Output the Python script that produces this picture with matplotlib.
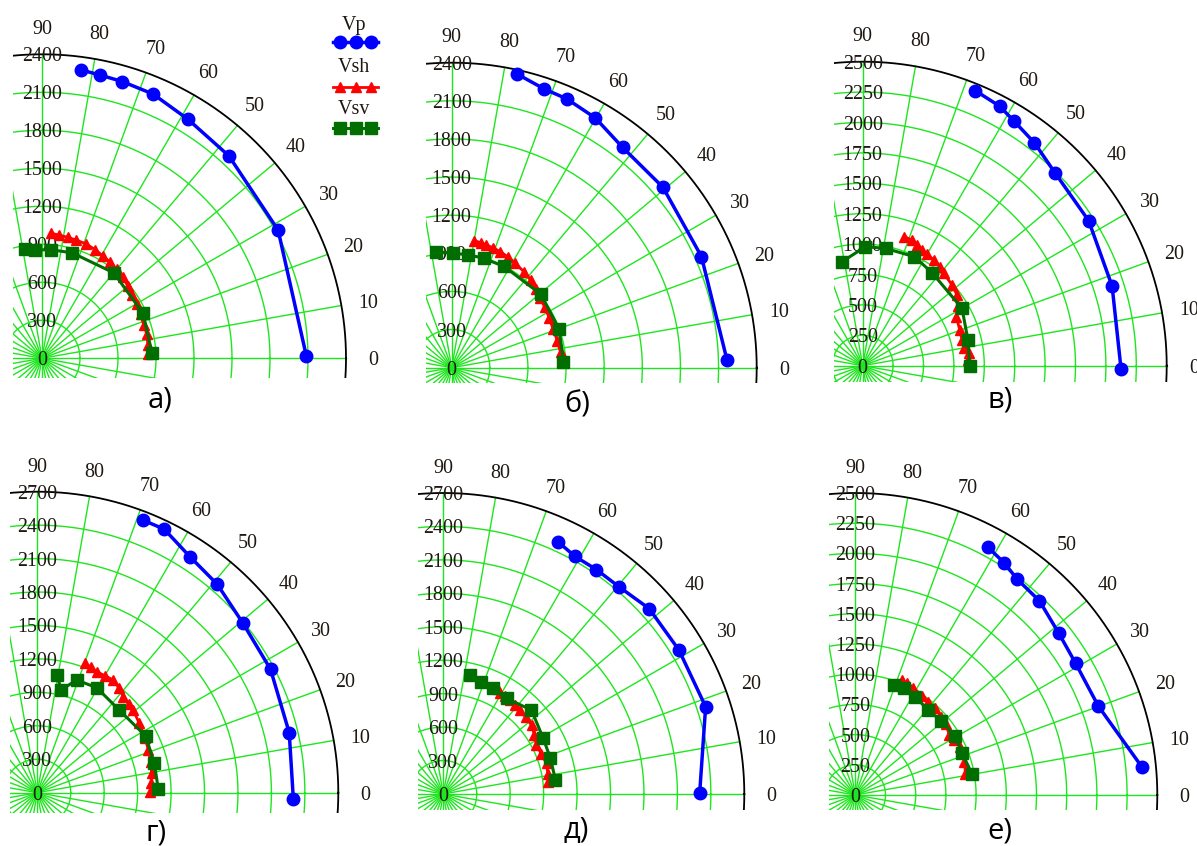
import numpy as np
import matplotlib
matplotlib.use("Agg")
import matplotlib.pyplot as plt

plt.rcParams["font.family"] = ["Liberation Serif", "DejaVu Serif"]

W, H = 1197, 846

# Velocity indicatrices: angle (deg) and velocity (m/s) for Vp, Vsh, Vsv

# а)
a_vp_deg = [0.5, 28.5, 47.3, 58.6, 67.2, 73.8, 78.5, 82.2]
a_vp = [2087, 2121, 2175, 2211, 2263, 2275, 2283, 2297]
a_vsh_deg = [2.5, 7, 13, 18, 24, 30, 35, 40, 45, 50, 55, 59, 64, 69, 74, 78, 82, 86]
a_vsh = [840, 843, 849, 845, 852, 862, 872, 885, 905, 918, 930, 940, 955, 968, 972, 976, 982, 990]
a_vsv_deg = [2.9, 24, 50, 74, 85, 93.5, 99]
a_vsv = [869, 873, 881, 866, 860, 858, 872]

# б)
b_vp_deg = [1.5, 24, 40.5, 52.2, 60.1, 66.8, 71.6, 77.5]
b_vp = [2168, 2151, 2186, 2194, 2267, 2301, 2311, 2368]
b_vsh_deg = [3, 8, 14, 21, 27, 33, 38, 43, 48, 53, 58.7, 63, 67.4, 71, 74.4, 77, 80]
b_vsh = [868, 865, 858, 854, 862, 873, 885, 905, 927, 945, 962, 978, 990, 998, 1004, 1010, 1016]
b_vsv_deg = [3.1, 19.7, 39.5, 62.6, 73.8, 81.6, 89.2, 97.7]
b_vsv = [881, 898, 909, 897, 897, 898, 901, 922]

# в)
c_vp_deg = [-0.8, 17.7, 32.7, 45, 52.4, 58.4, 62.2, 67.7]
c_vp = [2125, 2153, 2208, 2239, 2314, 2367, 2413, 2444]
c_vsh_deg = [3, 6.6, 10, 14.7, 20, 27.6, 32, 36.8, 42, 48.7, 52, 56.1, 60, 62.8, 66, 68.6, 72.1]
c_vsh = [870, 877, 850, 845, 850, 869, 920, 969, 990, 1010, 1030, 1047, 1060, 1069, 1090, 1110, 1115]
c_vsv_deg = [0, 13.7, 30, 53.3, 64.6, 79, 88.7, 101.2]
c_vsv = [880, 891, 943, 954, 992, 983, 979, 872]

# г)
d_vp_deg = [-1.3, 13.4, 27.9, 39.6, 49.2, 57.1, 64.3, 68.9]
d_vp = [2297, 2323, 2367, 2391, 2470, 2521, 2624, 2622]
d_vsh_deg = [0.5, 5, 9.6, 15, 21, 27, 34.2, 40.7, 44, 48.1, 52, 56, 60, 63.9, 67, 69.8]
d_vsh = [1011, 1025, 1040, 1055, 1067, 1085, 1106, 1136, 1140, 1156, 1190, 1219, 1212, 1209, 1225, 1236]
d_vsv_deg = [1.6, 14.1, 27.6, 45.2, 60.5, 70.8, 77, 80.4]
d_vsv = [1086, 1082, 1097, 1044, 1082, 1071, 945, 1071]

# д)
e_vp_deg = [0.3, 18.4, 31.4, 42, 49.7, 55.7, 61.05, 65.5]
e_vp = [2300, 2480, 2477, 2485, 2437, 2437, 2437, 2485]
e_vsh_deg = [6.7, 11, 16.5, 22, 27.7, 33, 38, 43, 47.6, 51, 54.7, 58, 60.6, 62.5]
e_vsh = [947, 955, 966, 950, 944, 975, 1004, 1010, 1019, 1025, 1033, 1040, 1045, 1065]
e_vsv_deg = [7.1, 18.4, 29.1, 43.6, 56.5, 64.7, 71.5, 77.4]
e_vsv = [1014, 1013, 1026, 1092, 1028, 1047, 1062, 1093]

# е)
f_vp_deg = [5.5, 20.1, 30.9, 38.5, 46.5, 53.1, 57.4, 61.9]
f_vp = [2386, 2142, 2125, 2152, 2215, 2233, 2284, 2327]
f_vsh_deg = [11, 17, 24.7, 29, 32.7, 38, 42, 47.3, 52, 56, 61.7, 65, 68]
f_vsh = [929, 945, 958, 935, 925, 950, 960, 977, 975, 990, 1010, 1020, 1030]
f_vsv_deg = [10.2, 21.3, 30.5, 41, 49.6, 58.6, 65.6, 70.8]
f_vsv = [982, 949, 962, 940, 925, 955, 970, 965]

captions = ["а)", "б)", "в)", "г)", "д)", "е)"]
r_max = [2400, 2400, 2500, 2700, 2700, 2500]
r_step = [300, 300, 250, 300, 300, 250]
angle_ticks = list(range(0, 91, 10))

GRID = "#1ee61e"
BLUE = "#0000ff"
RED = "#ff0000"
DKGREEN = "#006e00"
TXT = "#1e1812"

# panel frames in pixels: centre x, centre y, radius, left margin, bottom margin
frames = [
    (42.0, 358.3, 304.0, 28.7, 20.0),
    (451.7, 367.7, 305.0, 25.7, 15.6),
    (862.7, 365.7, 304.0, 29.0, 16.0),
    (37.3, 792.7, 301.0, 27.3, 20.6),
    (443.3, 794.0, 301.0, 25.3, 16.0),
    (855.3, 795.0, 302.0, 26.6, 15.0),
]
caption_pos = [(160, 407), (577, 412), (1000, 407), (156, 840), (576, 838), (1000, 838)]

series = [
    ((a_vp_deg, a_vp), (a_vsh_deg, a_vsh), (a_vsv_deg, a_vsv)),
    ((b_vp_deg, b_vp), (b_vsh_deg, b_vsh), (b_vsv_deg, b_vsv)),
    ((c_vp_deg, c_vp), (c_vsh_deg, c_vsh), (c_vsv_deg, c_vsv)),
    ((d_vp_deg, d_vp), (d_vsh_deg, d_vsh), (d_vsv_deg, d_vsv)),
    ((e_vp_deg, e_vp), (e_vsh_deg, e_vsh), (e_vsv_deg, e_vsv)),
    ((f_vp_deg, f_vp), (f_vsh_deg, f_vsh), (f_vsv_deg, f_vsv)),
]

fig = plt.figure(figsize=(W / 100, H / 100), dpi=100)
fig.patch.set_facecolor("white")


def to_xy(deg, v):
    th = np.radians(np.asarray(deg, dtype=float))
    v = np.asarray(v, dtype=float)
    return v * np.cos(th), v * np.sin(th)


styles = [
    dict(color=BLUE, lw=2.5, marker="o", ms=9, zorder=5),
    dict(color=RED, lw=2.0, marker="^", ms=6.5, zorder=6),
    dict(color=DKGREEN, lw=2.2, marker="s", ms=8, zorder=7),
]

for i, (cx, cy, rpx, ml, mb) in enumerate(frames):
    rm = r_max[i]
    k = rm / rpx
    ext = 1.006
    left, right = cx - ml, cx + rpx * ext
    top, bottom = cy - rpx * ext, cy + mb
    ax = fig.add_axes([left / W, 1 - bottom / H, (right - left) / W, (bottom - top) / H])
    ax.set_xlim(-ml * k, rpx * ext * k)
    ax.set_ylim(-mb * k, rpx * ext * k)
    ax.axis("off")

    t = np.linspace(0, 2 * np.pi, 1441)
    for r in np.arange(r_step[i], rm, r_step[i]):
        ax.plot(r * np.cos(t), r * np.sin(t), color=GRID, lw=1.0, zorder=1)
    for d in range(0, 360, 10):
        th = np.radians(d)
        ax.plot([0, rm * np.cos(th)], [0, rm * np.sin(th)], color=GRID, lw=1.0, zorder=1)
    ax.plot(rm * np.cos(t), rm * np.sin(t), color="black", lw=1.3, zorder=2)

    for r in np.arange(0, rm + 1, r_step[i]):
        ax.text(0, r, f"{int(r)}", ha="center", va="center_baseline", fontsize=14.4,
                color=TXT, zorder=3, clip_on=False)
    for d in angle_ticks:
        th = np.radians(d)
        ax.text(1.09 * rm * np.cos(th), 1.09 * rm * np.sin(th), str(d), ha="center",
                va="center_baseline", fontsize=14.4, color=TXT, clip_on=False)

    for (deg, v), st in zip(series[i], styles):
        x, y = to_xy(deg, v)
        ax.plot(x, y, **st)

    fig.text(caption_pos[i][0] / W, 1 - caption_pos[i][1] / H, captions[i],
             family=["Open Sans", "DejaVu Sans"], fontsize=21, ha="center",
             va="baseline", color="black")

# legend for the first panel
lg = fig.add_axes([320 / W, 1 - 140 / H, 80 / W, 140 / H])
lg.set_xlim(320, 400)
lg.set_ylim(140, 0)
lg.axis("off")
legend_rows = [("Vp", 23.0, 41.7), ("Vsh", 65.0, 87.3), ("Vsv", 107.3, 127.7)]
for (name, ty, ly), st in zip(legend_rows, styles):
    lg.plot([333, 340, 355.5, 371, 378], [ly] * 5, markevery=[1, 2, 3], **st)
    lg.text(354, ty, name, ha="center", va="center_baseline", fontsize=14.4, color=TXT)

fig.savefig("out.png", dpi=100, facecolor="white")
